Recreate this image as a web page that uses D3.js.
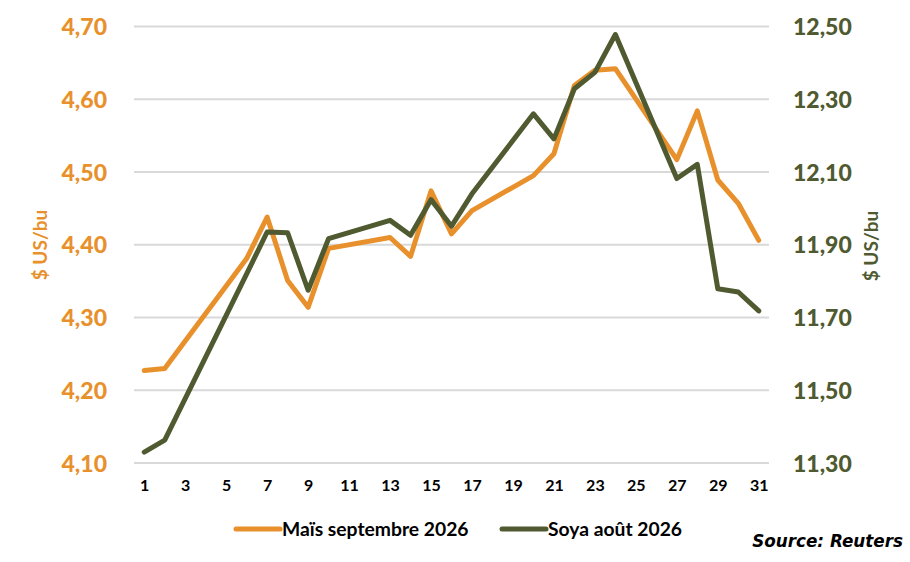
<!DOCTYPE html>
<html>
<head>
<meta charset="utf-8">
<script src="https://cdn.jsdelivr.net/npm/d3@7"></script>
<style>
  body { margin: 0; background: #ffffff; }
  svg text { font-family: Lato, "Open Sans", sans-serif; font-weight: bold; }
</style>
</head>
<body>
<svg id="chart" width="910" height="562"></svg>
<script>
// trading days of the month (weekends / holiday missing)
var days = [1, 2, 6, 7, 8, 9, 10, 13, 14, 15, 16, 17, 20, 21, 22, 23, 24, 27, 28, 29, 30, 31];
var maisValues = [4.227, 4.230, 4.381, 4.438, 4.351, 4.314, 4.395, 4.410, 4.384, 4.474, 4.415,
	4.447, 4.495, 4.525, 4.619, 4.640, 4.642, 4.517, 4.584, 4.489, 4.457, 4.406];
var soyaValues = [11.330, 11.363, 11.820, 11.935, 11.933, 11.775, 11.917, 11.967, 11.926, 12.024, 11.951,
	12.040, 12.260, 12.191, 12.329, 12.374, 12.478, 12.082, 12.121, 11.779, 11.770, 11.718];
var xTicks = [1, 3, 5, 7, 9, 11, 13, 15, 17, 19, 21, 23, 25, 27, 29, 31];
var leftTicks = [4.10, 4.20, 4.30, 4.40, 4.50, 4.60, 4.70];
var rightTicks = [11.30, 11.50, 11.70, 11.90, 12.10, 12.30, 12.50];
var seriesNames = ["Maïs septembre 2026", "Soya août 2026"];

var orange = "#e8912c";
var olive = "#4f5a30";

var svg = d3.select("#chart");

var x = d3.scaleLinear().domain([0.5, 31.5]).range([134, 769]);
var yLeft = d3.scaleLinear().domain([4.1, 4.7]).range([463, 26.5]);
var yRight = d3.scaleLinear().domain([11.3, 12.5]).range([463, 26.5]);

var fmt = function(d) { return d.toFixed(2).replace(".", ","); };

// gridlines
svg.append("g").selectAll("line").data(leftTicks).enter().append("line")
	.attr("x1", x.range()[0]).attr("x2", x.range()[1])
	.attr("y1", function(d) { return yLeft(d); })
	.attr("y2", function(d) { return yLeft(d); })
	.attr("stroke", "#d9d9d9").attr("stroke-width", 2);

// left axis
var gl = svg.append("g").attr("transform", "translate(107,0)")
	.call(d3.axisLeft(yLeft).tickValues(leftTicks).tickFormat(fmt).tickSize(0).tickPadding(0));
gl.select(".domain").remove();
gl.selectAll("text").attr("fill", orange).style("font-size", "23px").style("font-weight", "900").attr("dy", "0.35em");

// right axis
var gr = svg.append("g").attr("transform", "translate(793,0)")
	.call(d3.axisRight(yRight).tickValues(rightTicks).tickFormat(fmt).tickSize(0).tickPadding(0));
gr.select(".domain").remove();
gr.selectAll("text").attr("fill", olive).style("font-size", "23px").style("font-weight", "900").attr("dy", "0.35em");

// x axis
var gx = svg.append("g").attr("transform", "translate(0,477)")
	.call(d3.axisBottom(x).tickValues(xTicks).tickFormat(d3.format("d")).tickSize(0).tickPadding(0));
gx.select(".domain").remove();
gx.selectAll("text").attr("fill", "#000000").style("font-size", "16px").attr("dy", "0.85em");

// axis titles
svg.append("text").attr("transform", "translate(47,245) rotate(-90)")
	.attr("text-anchor", "middle").attr("fill", orange).style("font-size", "19px").text("$ US/bu");
svg.append("text").attr("transform", "translate(878,246) rotate(-90)")
	.attr("text-anchor", "middle").attr("fill", olive).style("font-size", "19px").text("$ US/bu");

// lines
var maisLine = d3.line()
	.x(function(d, i) { return x(days[i]); })
	.y(function(d) { return yLeft(d); });
var soyaLine = d3.line()
	.x(function(d, i) { return x(days[i]); })
	.y(function(d) { return yRight(d); });

svg.append("path").datum(maisValues).attr("d", maisLine)
	.attr("fill", "none").attr("stroke", orange).attr("stroke-width", 5)
	.attr("stroke-linejoin", "round").attr("stroke-linecap", "round");
svg.append("path").datum(soyaValues).attr("d", soyaLine)
	.attr("fill", "none").attr("stroke", olive).attr("stroke-width", 5)
	.attr("stroke-linejoin", "round").attr("stroke-linecap", "round");

// legend
var legend = [
	{ name: seriesNames[0], color: orange, x0: 236 },
	{ name: seriesNames[1], color: olive, x0: 502 }
];
var lg = svg.append("g").selectAll("g").data(legend).enter().append("g")
	.attr("transform", function(d) { return "translate(" + d.x0 + ",529)"; });
lg.append("line").attr("x1", 0).attr("x2", 44).attr("y1", 0).attr("y2", 0)
	.attr("stroke", function(d) { return d.color; }).attr("stroke-width", 5)
	.attr("stroke-linecap", "round");
lg.append("text").attr("x", 46).attr("dy", "0.35em").attr("fill", "#000000")
	.style("font-size", "19.3px").text(function(d) { return d.name; });

// source
svg.append("text").attr("x", 903).attr("y", 547).attr("text-anchor", "end")
	.attr("fill", "#000000").style("font-family", "'DejaVu Sans', Verdana, sans-serif")
	.style("font-size", "16.8px").style("font-style", "italic")
	.text("Source: Reuters");
</script>
</body>
</html>
